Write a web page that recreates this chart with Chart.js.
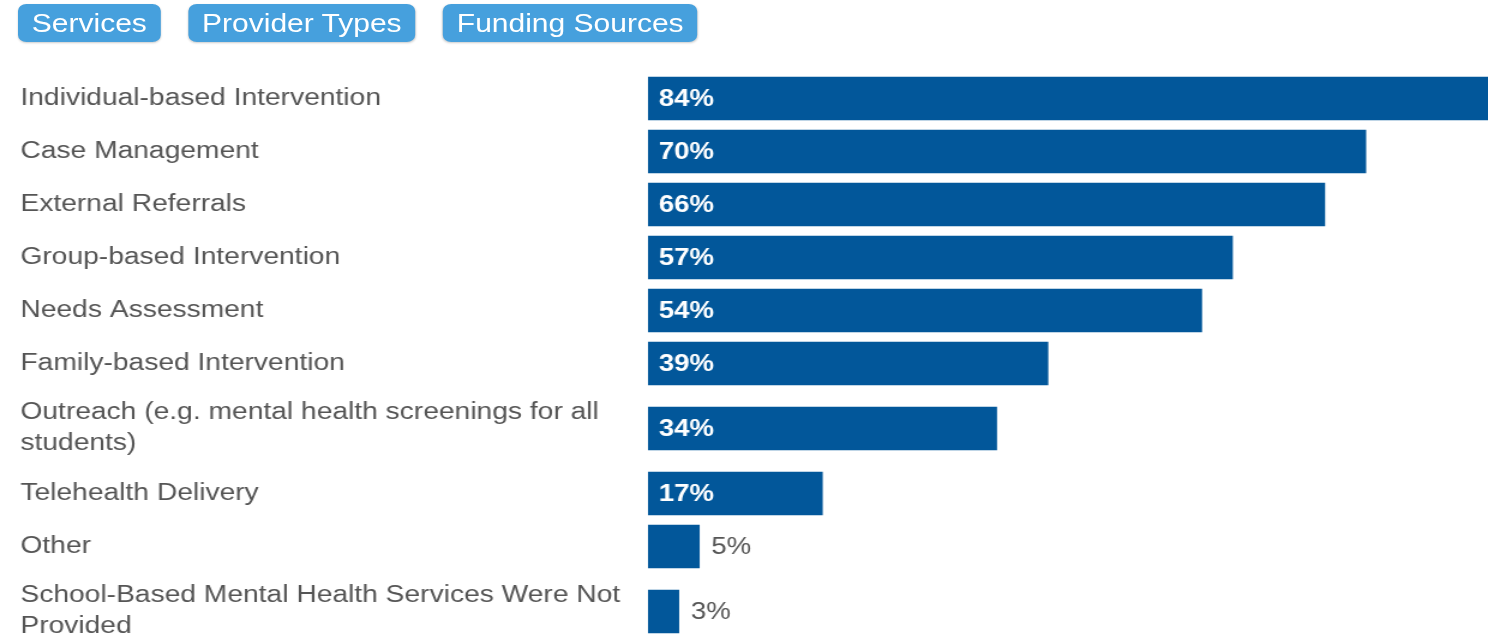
<!DOCTYPE html>
<html>
<head>
<meta charset="utf-8">
<script src="https://cdn.jsdelivr.net/npm/chart.js@4.4.1/dist/chart.umd.min.js"></script>
<style>
  html, body { margin: 0; padding: 0; overflow: hidden; background: #fff; }
  /* the reference screenshot is stretched sideways, so the whole page is too */
  #page { position: absolute; left: 0; top: 0; width: 1309px; height: 660px;
          transform: scaleX(1.2); transform-origin: 0 0; }
  #tabs { position: absolute; top: 4px; left: 15px; z-index: 2; }
  .tab { float: left; height: 33px; padding: 5px 11.5px 0; line-height: 46px; overflow: hidden; margin-right: 23px;
         background: #46a0dd; color: #fff; border-radius: 7px; box-shadow: 0 1px 2px rgba(0,0,0,0.2);
         font: 25px "Liberation Sans", Arial, sans-serif; }
  #chartBox { position: absolute; left: 0; top: 0; width: 1309px; height: 660px; }
</style>
</head>
<body>
<div id="page">
  <div id="tabs">
    <div class="tab">Services</div>
    <div class="tab">Provider Types</div>
    <div class="tab">Funding Sources</div>
  </div>
  <div id="chartBox"><canvas id="servicesChart"></canvas></div>
</div>
<script>
const categories = [
  'Individual-based Intervention',
  'Case Management',
  'External Referrals',
  'Group-based Intervention',
  'Needs Assessment',
  'Family-based Intervention',
  'Outreach (e.g. mental health screenings for all students)',
  'Telehealth Delivery',
  'Other',
  'School-Based Mental Health Services Were Not Provided'
];
const percents = [84, 70, 66, 57, 54, 39, 34, 17, 5, 3];

const labelFont = '"Liberation Sans", Arial, sans-serif';
const labelSize = 23.5;
const labelWidth = 523;

// wrap long labels the way the page does
const measureCtx = document.createElement('canvas').getContext('2d');
measureCtx.font = labelSize + 'px ' + labelFont;
function wrap(text) {
  const words = text.split(' ');
  const lines = [];
  let line = '';
  words.forEach((w) => {
    const test = line ? line + ' ' + w : w;
    if (line && measureCtx.measureText(test).width > labelWidth) {
      lines.push(line);
      line = w;
    } else {
      line = test;
    }
  });
  lines.push(line);
  return lines;
}
const wrapped = categories.map(wrap);

// rows with two-line labels are taller
const rowHeights = wrapped.map((l) => 29 + 24 * l.length);
let runningTop = 0;
const rowCenters = rowHeights.map((h) => {
  const c = runningTop + h / 2;
  runningTop += h;
  return c;
});
const totalHeight = runningTop;

// value labels: inside the bar when they fit, otherwise after it
const valueLabels = {
  id: 'valueLabels',
  afterDatasetsDraw(chart) {
    const ctx = chart.ctx;
    const meta = chart.getDatasetMeta(0);
    ctx.save();
    ctx.textBaseline = 'middle';
    ctx.textAlign = 'left';
    meta.data.forEach((bar, i) => {
      const text = percents[i] + '%';
      ctx.font = 'bold 23px ' + labelFont;
      const w = ctx.measureText(text).width;
      if (bar.x - bar.base > w + 20) {
        ctx.fillStyle = '#ffffff';
        ctx.fillText(text, bar.base + 9, bar.y + 1);
      } else {
        ctx.font = '23px ' + labelFont;
        ctx.fillStyle = '#555555';
        ctx.fillText(text, bar.x + 10, bar.y + 1);
      }
    });
    ctx.restore();
  }
};

new Chart(document.getElementById('servicesChart'), {
  type: 'bar',
  data: {
    datasets: [{
      data: percents.map((v, i) => ({ x: v, y: rowCenters[i] })),
      backgroundColor: '#02579a',
      borderWidth: 0,
      barThickness: 43
    }]
  },
  options: {
    indexAxis: 'y',
    responsive: true,
    maintainAspectRatio: false,
    animation: false,
    layout: { padding: { left: 17, right: 0, top: 72, bottom: 10 } },
    plugins: { legend: { display: false }, tooltip: { enabled: false } },
    scales: {
      x: { display: false, min: 0, max: 90 },
      y: {
        type: 'linear',
        reverse: true,
        offset: false,
        min: 0,
        max: totalHeight,
        grid: { display: false },
        border: { display: false },
        afterBuildTicks: (axis) => {
          axis.ticks = rowCenters.map((c) => ({ value: c }));
        },
        afterFit: (axis) => {
          axis.width = labelWidth;
          axis.paddingTop = 0;
          axis.paddingBottom = 0;
        },
        ticks: {
          autoSkip: false,
          crossAlign: 'far',
          color: '#555555',
          font: { family: labelFont, size: labelSize, lineHeight: 1.32 },
          callback: (value, index) => wrapped[index]
        }
      }
    }
  },
  plugins: [valueLabels]
});
</script>
</body>
</html>
